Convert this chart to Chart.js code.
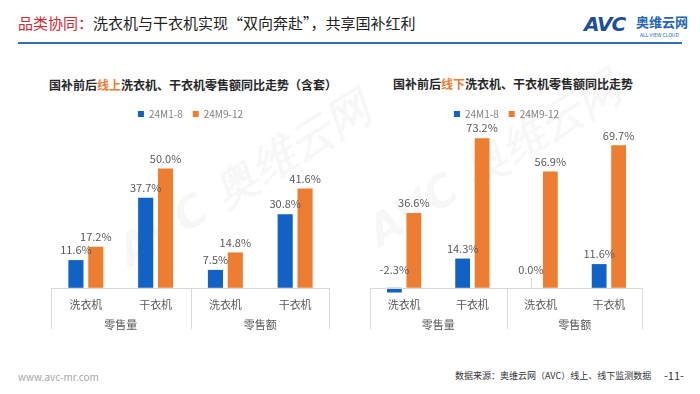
<!DOCTYPE html>
<html lang="zh">
<head>
    <meta charset="UTF-8">
    <title>洗衣机与干衣机 国补前后同比走势</title>
    <script src="https://cdn.jsdelivr.net/npm/chart.js"></script>
    <style>
        body {
            margin: 0;
            padding: 0;
            background-color: #ffffff;
            font-family: "Noto Sans CJK SC", "Noto Sans", sans-serif;
        }

        .page {
            position: relative;
            width: 700px;
            height: 394px;
            overflow: hidden;
        }

        .header {
            position: absolute;
            left: 18px;
            top: 12px;
            font-size: 15px;
            color: #222222;
            white-space: nowrap;
        }

        .header .red {
            color: #d7262d;
        }

        .rule {
            position: absolute;
            left: 18px;
            top: 42px;
            width: 664px;
            height: 2px;
            background-color: #2f6fb5;
        }

        .logo {
            position: absolute;
            left: 584px;
            top: 12px;
            white-space: nowrap;
        }

        .logo .avc {
            font-family: "DejaVu Sans", sans-serif;
            font-weight: bold;
            font-style: italic;
            font-size: 20px;
            color: #1a4f9c;
            letter-spacing: -1px;
        }

        .logo .cn {
            position: absolute;
            left: 52px;
            top: 0px;
            font-size: 13px;
            font-weight: bold;
            color: #2266b8;
        }

        .logo .en {
            position: absolute;
            left: 56px;
            top: 19px;
            font-size: 5px;
            color: #2266b8;
        }

        .chart-title {
            position: absolute;
            font-size: 12px;
            font-weight: bold;
            color: #262626;
            white-space: nowrap;
        }

        .chart-title .hl {
            color: #ed7d31;
        }

        .chart-box {
            position: absolute;
        }

        .watermark {
            position: absolute;
            font-family: "DejaVu Sans", sans-serif;
            font-weight: bold;
            font-style: italic;
            font-size: 44px;
            color: rgba(0, 0, 0, 0.04);
            transform: rotate(-32deg);
            white-space: nowrap;
        }

        .footer-left {
            position: absolute;
            left: 18px;
            top: 369px;
            font-size: 10px;
            color: #a6a6a6;
        }

        .footer-right {
            position: absolute;
            left: 455px;
            top: 369px;
            font-size: 9px;
            color: #333333;
            white-space: nowrap;
        }

        .page-no {
            position: absolute;
            left: 664px;
            top: 367px;
            font-size: 11px;
            color: #333333;
        }
    </style>
</head>
<body>
<div class="page">
    <div class="header"><span class="red">品类协同：</span>洗衣机与干衣机实现“双向奔赴”，共享国补红利</div>
    <div class="rule"></div>
    <div class="logo">
        <span class="avc">AVC</span>
        <span class="cn">奥维云网</span>
        <span class="en">ALL VIEW CLOUD</span>
    </div>

    <div class="watermark" style="left: 100px; top: 150px;">AVC 奥维云网</div>
    <div class="watermark" style="left: 350px; top: 130px;">AVC 奥维云网</div>

    <div class="chart-title" style="left: 49px; top: 76px;">国补前后<span class="hl">线上</span>洗衣机、干衣机零售额同比走势（含套）</div>
    <div class="chart-title" style="left: 393px; top: 75px;">国补前后<span class="hl">线下</span>洗衣机、干衣机零售额同比走势</div>

    <div class="chart-box" style="left: 51px; top: 99px; width: 279px; height: 236px;">
        <canvas id="onlineChart"></canvas>
    </div>
    <div class="chart-box" style="left: 370px; top: 99px; width: 273px; height: 236px;">
        <canvas id="offlineChart"></canvas>
    </div>

    <div class="footer-left">www.avc-mr.com</div>
    <div class="footer-right">数据来源：奥维云网（AVC）线上、线下监测数据</div>
    <div class="page-no">-11-</div>
</div>

<script>
    // categories and groups on the x axis
    const categories = ['洗衣机', '干衣机', '洗衣机', '干衣机'];
    const groups = ['零售量', '零售额'];
    const seriesNames = ['24M1-8', '24M9-12'];

    // online (线上) yoy, %
    const onlineBefore = [11.6, 37.7, 7.5, 30.8];
    const onlineAfter = [17.2, 50.0, 14.8, 41.6];

    // offline (线下) yoy, %
    const offlineBefore = [-2.3, 14.3, 0.0, 11.6];
    const offlineAfter = [36.6, 73.2, 56.9, 69.7];

    const blue = '#1062c4';
    const orange = '#ed7d31';
    const fontFamily = '"Noto Sans CJK SC", "Noto Sans", sans-serif';

    // value labels above bars, zero line, group separators and group labels
    const groupAxis = {
        id: 'groupAxis',
        afterDatasetsDraw(chart) {
            const ctx = chart.ctx;
            const x = chart.scales.x;
            const y = chart.scales.y;
            const area = chart.chartArea;
            const zeroY = Math.round(y.getPixelForValue(0));

            ctx.save();
            ctx.strokeStyle = '#d9d9d9';
            ctx.lineWidth = 1;

            // baseline at zero
            ctx.beginPath();
            ctx.moveTo(area.left, zeroY + 0.5);
            ctx.lineTo(area.right, zeroY + 0.5);
            ctx.stroke();

            // separators between groups
            const lineBottom = chart.height - 6;
            const mid = (x.getPixelForTick(1) + x.getPixelForTick(2)) / 2;
            [area.left + 0.5, Math.round(mid) + 0.5, area.right - 0.5].forEach(px => {
                ctx.beginPath();
                ctx.moveTo(px, zeroY);
                ctx.lineTo(px, lineBottom);
                ctx.stroke();
            });

            // group labels
            ctx.fillStyle = '#595959';
            ctx.font = '11px ' + fontFamily;
            ctx.textAlign = 'center';
            ctx.textBaseline = 'middle';
            ctx.fillText(groups[0], (area.left + mid) / 2, lineBottom - 4);
            ctx.fillText(groups[1], (mid + area.right) / 2, lineBottom - 4);

            // value labels
            chart.data.datasets.forEach((ds, i) => {
                const meta = chart.getDatasetMeta(i);
                meta.data.forEach((bar, j) => {
                    const v = ds.data[j];
                    const ly = v > 0 ? bar.y - 10 : zeroY - 18;
                    if (v === 0) {
                        ctx.beginPath();
                        ctx.moveTo(Math.round(bar.x) + 0.5, ly + 8);
                        ctx.lineTo(Math.round(bar.x) + 0.5, zeroY);
                        ctx.stroke();
                    }
                    ctx.fillText(v.toFixed(1) + '%', bar.x, ly);
                });
            });
            ctx.restore();
        }
    };

    function makeChart(id, before, after, yMax) {
        const ctx = document.getElementById(id).getContext('2d');
        return new Chart(ctx, {
            type: 'bar',
            data: {
                labels: categories,
                datasets: [{
                    label: seriesNames[0],
                    data: before,
                    backgroundColor: blue,
                    categoryPercentage: 0.57,
                    barPercentage: 0.76,
                    clip: false
                }, {
                    label: seriesNames[1],
                    data: after,
                    backgroundColor: orange,
                    categoryPercentage: 0.57,
                    barPercentage: 0.76,
                    clip: false
                }]
            },
            options: {
                responsive: true,
                maintainAspectRatio: false,
                animation: false,
                layout: {
                    padding: { left: 0, right: 0, top: 0, bottom: 22 }
                },
                plugins: {
                    legend: {
                        position: 'top',
                        labels: {
                            boxWidth: 6,
                            boxHeight: 6,
                            color: '#7f7f7f',
                            font: { size: 10, family: fontFamily },
                            padding: 10
                        }
                    },
                    tooltip: { enabled: false }
                },
                scales: {
                    x: {
                        grid: { display: false },
                        border: { display: false },
                        ticks: {
                            color: '#595959',
                            font: { size: 11, family: fontFamily },
                            padding: 2
                        }
                    },
                    y: {
                        display: false,
                        min: 0,
                        max: yMax
                    }
                }
            },
            plugins: [groupAxis]
        });
    }

    makeChart('onlineChart', onlineBefore, onlineAfter, 66.5);
    makeChart('offlineChart', offlineBefore, offlineAfter, 77.7);
</script>
</body>
</html>
